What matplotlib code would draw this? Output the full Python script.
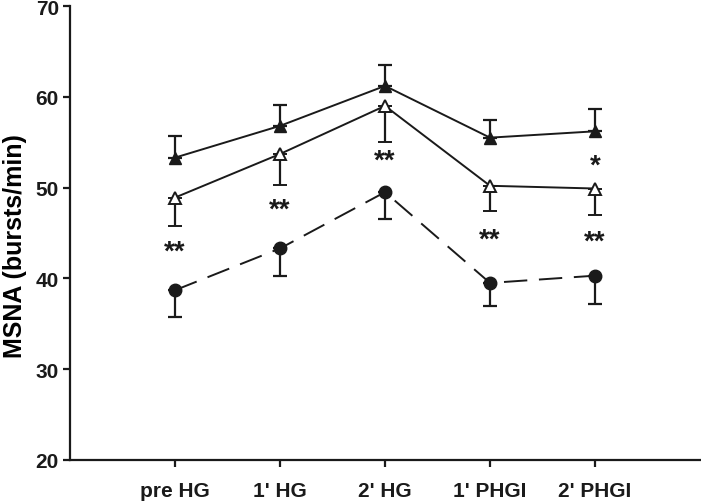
import numpy as np
import matplotlib
matplotlib.use("Agg")
import matplotlib.pyplot as plt

plt.rcParams["font.family"] = ["Liberation Sans", "DejaVu Sans"]
plt.rcParams["font.weight"] = "bold"

# ── Data ──────────────────────────────────────────────────────────────────────
categories = ["pre HG", "1' HG", "2' HG", "1' PHGI", "2' PHGI"]

filled_tri = [53.3, 56.8, 61.2, 55.5, 56.2]
filled_err = [2.4, 2.3, 2.3, 1.9, 2.5]

open_tri = [48.9, 53.7, 59.0, 50.2, 49.9]
open_err = [3.1, 3.4, 4.0, 2.8, 2.9]

circles = [38.7, 43.3, 49.5, 39.5, 40.3]
circle_err = [2.9, 3.0, 3.0, 2.5, 3.1]

stars_low = ["**", "**", "**", "**", "**"]
stars_low_y = [43.0, 47.6, 53.0, 44.3, 44.0]
star_high = "*"
star_high_y = 52.4

# ── Figure ────────────────────────────────────────────────────────────────────
fig = plt.figure(figsize=(7.01, 5.02), dpi=100)
ax = fig.add_axes([70 / 701, 41 / 502, 630 / 701, 454 / 502])

x = np.arange(1, len(categories) + 1)
zeros = np.zeros(len(x))
ink = "#1a1a1a"

ax.errorbar(x, filled_tri, yerr=[zeros, filled_err], color=ink,
            marker="^", markersize=9, linewidth=1.4, elinewidth=1.6,
            capsize=4.7, capthick=1.6, zorder=3)
ax.errorbar(x, open_tri, yerr=[open_err, zeros], color=ink,
            marker="^", markersize=9, markerfacecolor="white",
            markeredgewidth=1.4, linewidth=1.4, elinewidth=1.6,
            capsize=4.7, capthick=1.6, zorder=3)
ax.errorbar(x, circles, yerr=[circle_err, zeros], color=ink,
            marker="o", markersize=9, linewidth=1.4, elinewidth=1.6,
            capsize=4.7, capthick=1.6, dashes=(12, 6), zorder=3)

for xi, s, yi in zip(x, stars_low, stars_low_y):
    ax.text(xi, yi, s, ha="center", va="center", fontsize=20,
            fontweight="bold", color=ink)
ax.text(x[-1], star_high_y, star_high, ha="center", va="center",
        fontsize=20, fontweight="bold", color=ink)

ax.set_xlim(0, 6)
ax.set_ylim(20, 70)
ax.set_xticks(x)
ax.set_xticklabels(categories)
ax.set_yticks([20, 30, 40, 50, 60, 70])
ax.set_ylabel("MSNA (bursts/min)", fontsize=18, fontweight="bold")
ax.yaxis.set_label_coords(-0.068, 0.474)

ax.tick_params(axis="both", labelsize=15, width=1.6, length=5, direction="out",
               colors=ink)
ax.tick_params(axis="x", pad=10)
ax.tick_params(axis="y", pad=3)
for lab in ax.get_xticklabels() + ax.get_yticklabels():
    lab.set_fontweight("bold")

ax.spines["top"].set_visible(False)
ax.spines["right"].set_visible(False)
for side in ["left", "bottom"]:
    ax.spines[side].set_linewidth(1.6)
    ax.spines[side].set_color(ink)

plt.savefig("out.png", dpi=100, facecolor="white")
plt.close()
